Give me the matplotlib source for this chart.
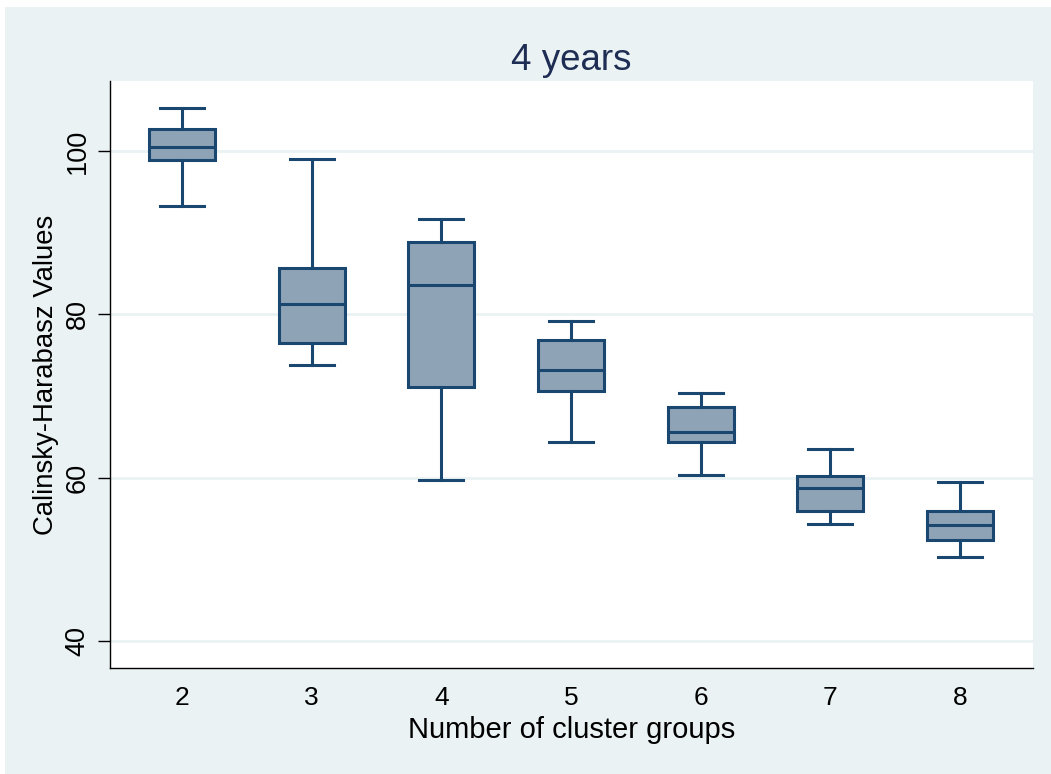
import matplotlib.pyplot as plt
from matplotlib.patches import Rectangle

plt.rcParams['font.family'] = ['Liberation Sans', 'DejaVu Sans']

groups = [2, 3, 4, 5, 6, 7, 8]
whislo = [93.3, 73.8, 59.7, 64.4, 60.3, 54.3, 50.3]
q1 = [98.9, 76.5, 71.1, 70.6, 64.4, 55.9, 52.4]
med = [100.5, 81.3, 83.6, 73.2, 65.6, 58.8, 54.2]
q3 = [102.7, 85.7, 88.9, 76.9, 68.7, 60.2, 55.9]
whishi = [105.3, 99.1, 91.7, 79.2, 70.4, 63.5, 59.5]

navy = '#1A476F'
fill = '#8FA3B7'
bg = '#EAF2F3'

fig = plt.figure(figsize=(10.51, 7.74), dpi=100)
fig.patches.append(Rectangle((5 / 1051, 0), 1, 1 - 7 / 774, transform=fig.transFigure,
                             facecolor=bg, edgecolor='none', zorder=-10))
ax = fig.add_axes([110 / 1051, 1 - 668 / 774, 923 / 1051, 587 / 774])

stats = []
for i in range(len(groups)):
    stats.append(dict(whislo=whislo[i], q1=q1[i], med=med[i], q3=q3[i],
                      whishi=whishi[i], fliers=[]))

ax.bxp(stats, positions=groups, widths=0.51, patch_artist=True, showfliers=False,
       boxprops=dict(facecolor=fill, edgecolor=navy, linewidth=2.2),
       medianprops=dict(color=navy, linewidth=2.2),
       whiskerprops=dict(color=navy, linewidth=2.2),
       capprops=dict(color=navy, linewidth=2.2),
       capwidths=0.34)

ax.set_xlim(1.445, 8.563)
ax.set_ylim(36.7, 108.6)
ax.set_yticks([40, 60, 80, 100])
ax.set_xticks(groups)
ax.set_xticklabels([str(g) for g in groups])
ax.yaxis.grid(True, color=bg, linewidth=2)
ax.set_axisbelow(True)

for s in ['top', 'right']:
    ax.spines[s].set_visible(False)
ax.spines['left'].set_color('black')
ax.spines['bottom'].set_color('black')
ax.spines['left'].set_linewidth(1)
ax.spines['bottom'].set_linewidth(1)

ax.tick_params(axis='x', length=0, labelsize=19, pad=13)
ax.tick_params(axis='y', length=8.6, width=1, labelsize=19.5, pad=5.5)
for lab in ax.get_yticklabels():
    lab.set_rotation(90)
    lab.set_va('center')

ax.set_xlabel('Number of cluster groups', fontsize=21, labelpad=4)
ax.set_ylabel('Calinsky-Harabasz Values', fontsize=19.8, labelpad=4)
ax.set_title('4 years', fontsize=26.5, color='#1E2D53', pad=8)

fig.savefig('out.png', dpi=100)
